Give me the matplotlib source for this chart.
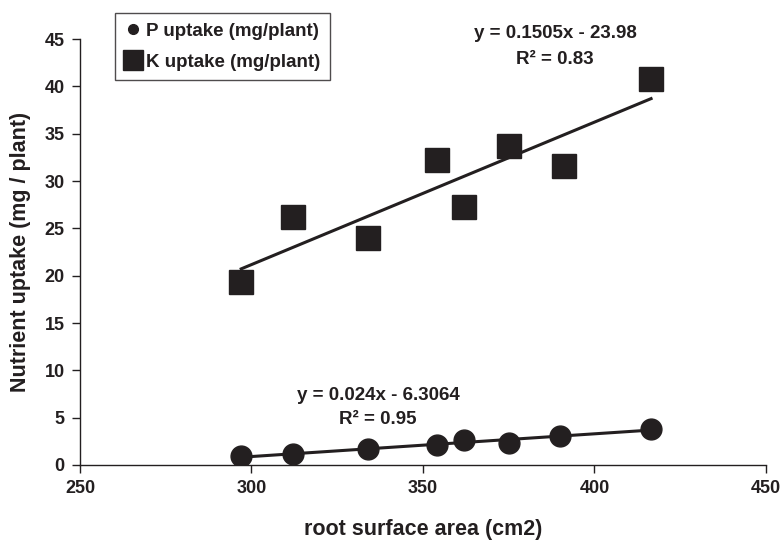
import matplotlib.pyplot as plt
import numpy as np
from matplotlib.lines import Line2D

# root surface area (cm2) and uptake (mg/plant)
area_k = [297, 312, 334, 354, 362, 375, 391, 416.5]
k_uptake = [19.3, 26.2, 24.0, 32.2, 27.3, 33.7, 31.6, 40.8]
area_p = [297, 312, 334, 354, 362, 375, 390, 416.5]
p_uptake = [1.0, 1.2, 1.7, 2.1, 2.6, 2.3, 3.1, 3.8]

# trend line coefficients as printed on the chart
k_fit = (0.1505, -23.98)
p_fit = (0.024, -6.3064)

ink = '#231f20'
plt.rcParams['font.family'] = ['Liberation Sans', 'DejaVu Sans']
plt.rcParams['font.weight'] = 'bold'

fig = plt.figure(figsize=(7.82, 5.45), dpi=100)
ax = fig.add_axes([0.1023, 0.1468, 0.8772, 0.7816])

# trend lines
xk = np.array([min(area_k), max(area_k)])
ax.plot(xk, k_fit[0] * xk + k_fit[1], color=ink, lw=2.2, zorder=2)
xp = np.array([min(area_p), max(area_p)])
ax.plot(xp, p_fit[0] * xp + p_fit[1], color=ink, lw=2.2, zorder=2)

ax.plot(area_k, k_uptake, 's', color=ink, ms=17, zorder=3)
ax.plot(area_p, p_uptake, 'o', color=ink, ms=15, zorder=3)

ax.set_xlim(250, 450)
ax.set_ylim(0, 45)
ax.set_xticks(np.arange(250, 451, 50))
ax.set_yticks(np.arange(0, 46, 5))
for s in ['top', 'right']:
    ax.spines[s].set_visible(False)
for s in ['left', 'bottom']:
    ax.spines[s].set_color(ink)
    ax.spines[s].set_linewidth(1.0)
ax.tick_params(direction='out', length=6, width=1.0, color=ink,
               labelsize=13, labelcolor=ink, pad=5)
for lab in ax.get_xticklabels() + ax.get_yticklabels():
    lab.set_fontweight('bold')

ax.set_xlabel('root surface area (cm2)', fontsize=15.5, fontweight='bold',
              color=ink, labelpad=16)
ax.set_ylabel('Nutrient uptake (mg / plant)', fontsize=15.5, fontweight='bold',
              color=ink, labelpad=10)

# equations
eq_style = dict(transform=fig.transFigure, ha='center', va='center',
                fontsize=13.5, fontweight='bold', color=ink)
ax.text(555 / 782, 1 - 34 / 545, 'y = 0.1505x - 23.98', **eq_style)
ax.text(555 / 782, 1 - 59 / 545, 'R² = 0.83', **eq_style)
ax.text(378 / 782, 1 - 395 / 545, 'y = 0.024x - 6.3064', **eq_style)
ax.text(378 / 782, 1 - 420 / 545, 'R² = 0.95', **eq_style)

handles = [Line2D([], [], ls='none', marker='o', ms=7, color=ink),
           Line2D([], [], ls='none', marker='s', ms=15, color=ink)]
leg = fig.legend(handles, ['P uptake (mg/plant)', 'K uptake (mg/plant)'],
                 loc='upper left', bbox_to_anchor=(115 / 782, 1 - 13 / 545),
                 frameon=True, fancybox=False, fontsize=13.5, handlelength=0.9,
                 handletextpad=0.25, borderpad=0.5, labelspacing=0.75,
                 borderaxespad=0)
leg.get_frame().set_edgecolor(ink)
leg.get_frame().set_linewidth(1.0)
for t in leg.get_texts():
    t.set_fontweight('bold')
    t.set_color(ink)

plt.savefig('out.png', dpi=100)
